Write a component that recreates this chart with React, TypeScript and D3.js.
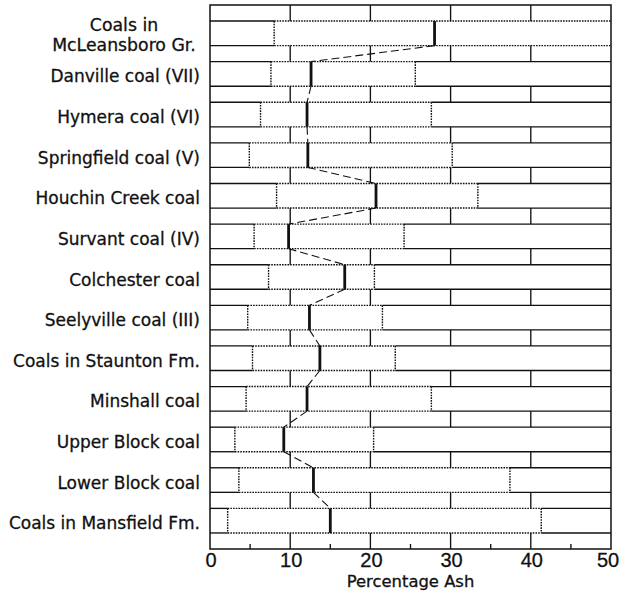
import React from "react";
import * as d3 from "d3";

// Coal units, top (youngest) to bottom (oldest)
const coals: string[][] = [
  ["Coals in", "McLeansboro Gr."],
  ["Danville coal (VII)"],
  ["Hymera coal (VI)"],
  ["Springfield coal (V)"],
  ["Houchin Creek coal"],
  ["Survant coal (IV)"],
  ["Colchester coal"],
  ["Seelyville coal (III)"],
  ["Coals in Staunton Fm."],
  ["Minshall coal"],
  ["Upper Block coal"],
  ["Lower Block coal"],
  ["Coals in Mansfield Fm."],
];

// Percentage ash: minimum, mean, maximum for each unit
const ashMin = [8.0, 7.6, 6.3, 4.9, 8.3, 5.5, 7.3, 4.7, 5.3, 4.5, 3.1, 3.6, 2.2];
const ashMean = [28.0, 12.6, 12.1, 12.2, 20.7, 9.8, 16.8, 12.4, 13.7, 12.1, 9.2, 12.9, 15.0];
const ashMax = [50, 25.6, 27.6, 30.2, 33.4, 24.2, 20.5, 21.5, 23.1, 27.6, 20.4, 37.4, 41.3];

const majorTicks = [0, 10, 20, 30, 40, 50];
const minorTicks = [5, 15, 25, 35, 45];
const jointValues = [10, 20, 30, 40];

const W = 621;
const H = 595;
const FONT = "'DejaVu Sans', Verdana, sans-serif";
const TICK_FONT = "'Liberation Sans', Arial, sans-serif";
const INK = "#111";

// Alternating "brick" courses: a thin spacer course, then a data course
const SPACER = 16;
const DATA = 24.5;
const n = coals.length;
const totalUnits = (n + 1) * SPACER + n * DATA;

export default function App() {
  const x = d3.scaleLinear().domain([0, 50]).range([210, 611]);
  const y = d3.scaleLinear().domain([0, totalUnits]).range([5, 549]);

  const dataTop = (i: number) => y((i + 1) * SPACER + i * DATA);
  const dataBot = (i: number) => y((i + 1) * SPACER + (i + 1) * DATA);
  const spacerTop = (k: number) => y(k * (SPACER + DATA));
  const spacerBot = (k: number) => y(k * (SPACER + DATA) + SPACER);

  const dotted = "1.6,1.1";
  const LW = 1.35;
  const elements: React.ReactNode[] = [];

  // Spacer courses with brick joints every 10 %
  for (let k = 0; k <= n; k++) {
    jointValues.forEach((v) => {
      elements.push(
        <line key={`j${k}-${v}`} x1={x(v)} x2={x(v)} y1={spacerTop(k)} y2={spacerBot(k)} stroke={INK} strokeWidth={LW} />
      );
    });
  }

  // Course boundaries: solid outside the range box, dotted along it
  const boundary = (yy: number, i: number, key: string) => {
    const a = x(ashMin[i]);
    const b = x(ashMax[i]);
    elements.push(
      <line key={`${key}a`} x1={x(0)} x2={a} y1={yy} y2={yy} stroke={INK} strokeWidth={LW} />,
      <line key={`${key}b`} x1={a} x2={b} y1={yy} y2={yy} stroke={INK} strokeWidth={1.4} strokeDasharray={dotted} />,
      <line key={`${key}c`} x1={b} x2={x(50)} y1={yy} y2={yy} stroke={INK} strokeWidth={LW} />
    );
  };
  for (let i = 0; i < n; i++) {
    boundary(dataTop(i), i, `t${i}`);
    boundary(dataBot(i), i, `b${i}`);
  }

  // Range box ends and mean bars
  for (let i = 0; i < n; i++) {
    const t = dataTop(i);
    const b = dataBot(i);
    elements.push(
      <line key={`mn${i}`} x1={x(ashMin[i])} x2={x(ashMin[i])} y1={t} y2={b} stroke={INK} strokeWidth={1.4} strokeDasharray={dotted} />
    );
    if (ashMax[i] < 50) {
      elements.push(
        <line key={`mx${i}`} x1={x(ashMax[i])} x2={x(ashMax[i])} y1={t} y2={b} stroke={INK} strokeWidth={1.4} strokeDasharray={dotted} />
      );
    }
    elements.push(
      <line key={`me${i}`} x1={x(ashMean[i])} x2={x(ashMean[i])} y1={t} y2={b} stroke={INK} strokeWidth={2.8} />
    );
  }

  // Dashed link between successive means
  for (let i = 0; i < n - 1; i++) {
    elements.push(
      <line
        key={`ln${i}`}
        x1={x(ashMean[i])}
        y1={dataBot(i)}
        x2={x(ashMean[i + 1])}
        y2={dataTop(i + 1)}
        stroke={INK}
        strokeWidth={1.1}
        strokeDasharray="8,4"
      />
    );
  }

  const y0 = y(0);
  const y1 = y(totalUnits);
  const textStroke = { stroke: INK, strokeWidth: 0.3 };

  return (
    <svg width={W} height={H} style={{ position: "absolute", left: 0, top: 0, background: "#fff" }}>
      <rect x={0} y={0} width={W} height={H} fill="#fff" />
      {elements}
      {/* frame */}
      <rect x={x(0)} y={y0} width={x(50) - x(0)} height={y1 - y0} fill="none" stroke={INK} strokeWidth={1.5} />
      {/* minor ticks on the baseline */}
      {minorTicks.map((v) => (
        <line key={`mt${v}`} x1={x(v)} x2={x(v)} y1={y1 - 5} y2={y1} stroke={INK} strokeWidth={LW} />
      ))}
      {/* tick labels */}
      {majorTicks.map((v) => (
        <text
          key={`tl${v}`}
          x={Math.min(x(v) + 1, 608)}
          y={567}
          textAnchor="middle"
          fontFamily={TICK_FONT}
          fontSize={20}
          fill={INK}
          {...textStroke}
        >
          {v}
        </text>
      ))}
      <text x={x(25)} y={587} textAnchor="middle" fontFamily={FONT} fontSize={16.4} fill={INK} {...textStroke}>
        Percentage Ash
      </text>
      {/* unit labels */}
      {coals.map((lines, i) => {
        const c = (dataTop(i) + dataBot(i)) / 2;
        if (lines.length === 2) {
          return (
            <text key={`lb${i}`} textAnchor="middle" fontFamily={FONT} fontSize={17.3} fill={INK} {...textStroke}>
              <tspan x={124} y={c - 2}>{lines[0]}</tspan>
              <tspan x={124} y={c + 18}>{lines[1]}</tspan>
            </text>
          );
        }
        return (
          <text key={`lb${i}`} x={200} y={c + 8.5} textAnchor="end" fontFamily={FONT} fontSize={17} fill={INK} {...textStroke}>
            {lines[0]}
          </text>
        );
      })}
    </svg>
  );
}
